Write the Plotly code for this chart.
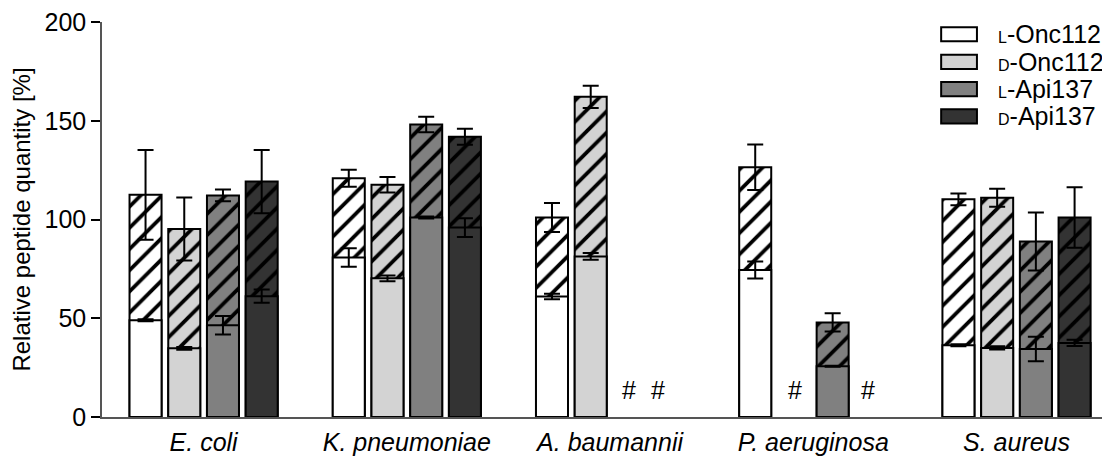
import plotly.graph_objects as go

# ---------------- data ----------------
categories = ["E. coli", "K. pneumoniae", "A. baumannii", "P. aeruginosa", "S. aureus"]
series_prefix = ["L", "D", "L", "D"]
series_base = ["Onc112", "Onc112", "Api137", "Api137"]

# lower (solid) segment values and SD
bottom_L_Onc112 = [49.0, 80.8, 61.0, 74.4, 36.3]
bottom_D_Onc112 = [34.8, 70.2, 81.3, None, 35.0]
bottom_L_Api137 = [46.5, 101.0, None, 25.7, 34.4]
bottom_D_Api137 = [61.2, 95.9, None, None, 37.5]

bottom_err_L_Onc112 = [0.5, 4.7, 1.4, 4.3, 0.5]
bottom_err_D_Onc112 = [0.7, 1.5, 1.7, None, 0.8]
bottom_err_L_Api137 = [4.7, 0.5, None, 0.3, 6.2]
bottom_err_D_Api137 = [3.4, 4.7, None, None, 1.6]

# total (top of hatched segment) values and SD
total_L_Onc112 = [112.5, 120.9, 101.0, 126.5, 110.2]
total_D_Onc112 = [95.2, 117.6, 162.1, None, 111.0]
total_L_Api137 = [112.2, 148.1, None, 47.9, 88.9]
total_D_Api137 = [119.2, 141.9, None, None, 101.0]

total_err_L_Onc112 = [22.7, 4.3, 7.3, 11.5, 3.0]
total_err_D_Onc112 = [16.0, 3.9, 5.6, None, 4.6]
total_err_L_Api137 = [3.0, 3.9, None, 4.6, 14.7]
total_err_D_Api137 = [16.0, 4.1, None, None, 15.3]

# not detected markers (category, text)
not_detected = [("A. baumannii", "#"), ("A. baumannii", "#"),
                ("P. aeruginosa", "#"), ("P. aeruginosa", "#")]

y_ticks = [0, 50, 100, 150, 200]

# ---------------- style ----------------
colors = ["#ffffff", "#d3d3d3", "#808080", "#333333"]
FONT = "Liberation Sans, Arial, sans-serif"
FS = 25
hash_shift = [19, 48, -18, 55]  # pixel offsets of '#' marks

bottoms = [bottom_L_Onc112, bottom_D_Onc112, bottom_L_Api137, bottom_D_Api137]
bottom_errs = [bottom_err_L_Onc112, bottom_err_D_Onc112, bottom_err_L_Api137, bottom_err_D_Api137]
totals = [total_L_Onc112, total_D_Onc112, total_L_Api137, total_D_Api137]
total_errs = [total_err_L_Onc112, total_err_D_Onc112, total_err_L_Api137, total_err_D_Api137]

fig = go.Figure()
for i in range(4):
    name = f"{series_prefix[i]}-{series_base[i]}"
    # full-height hatched bar (total)
    fig.add_trace(go.Bar(
        x=categories, y=totals[i], name=name, offsetgroup=str(i),
        marker=dict(color=colors[i], line=dict(color="black", width=2),
                    pattern=dict(shape="/", fgcolor="black", bgcolor=colors[i],
                                 size=15, solidity=0.25, fillmode="replace")),
        error_y=dict(type="data", array=total_errs[i], visible=True,
                     color="black", thickness=2, width=8),
        showlegend=False,
    ))
    # solid lower segment drawn over it
    fig.add_trace(go.Bar(
        x=categories, y=bottoms[i], name=name, offsetgroup=str(i),
        marker=dict(color=colors[i], line=dict(color="black", width=2)),
        error_y=dict(type="data", array=bottom_errs[i], visible=True,
                     color="black", thickness=2, width=8),
        showlegend=False,
    ))

# '#' marks for not detected
for (cat, txt), dx in zip(not_detected, hash_shift):
    fig.add_annotation(x=cat, y=13.5, text=txt, showarrow=False, xshift=dx,
                       font=dict(family=FONT, size=FS, color="black"),
                       xanchor="center", yanchor="middle")

# manual legend
leg_y = [0.969, 0.899, 0.830, 0.761]
for i in range(4):
    yc = leg_y[i]
    fig.add_shape(type="rect", xref="paper", yref="paper",
                  x0=0.8325, x1=0.868, y0=yc - 0.018, y1=yc + 0.018,
                  fillcolor=colors[i], line=dict(color="black", width=2))
    label = (f"<span style='font-size:16px'>{series_prefix[i]}</span>-"
             f"{series_base[i]}")
    fig.add_annotation(xref="paper", yref="paper", x=0.887, y=yc, text=label,
                       showarrow=False, xanchor="left", yanchor="middle",
                       font=dict(family=FONT, size=FS, color="black"))

fig.update_layout(
    width=1102, height=448,
    margin=dict(l=94, r=0, t=13, b=38.3),
    paper_bgcolor="white", plot_bgcolor="white",
    barmode="group", bargap=0.238, bargroupgap=0.173,
    font=dict(family=FONT, size=FS, color="black"),
    xaxis=dict(type="category", range=[-0.5, 4.46], showline=True,
               linecolor="#555555", linewidth=1.5, ticks="", showgrid=False,
               tickfont=dict(family=FONT, size=FS, color="black", style="italic"),
               ticklabelstandoff=2, ticklabeloverflow="allow"),
    yaxis=dict(range=[0, 200], tickvals=y_ticks, showline=True,
               linecolor="#555555", linewidth=1.5, ticks="outside",
               ticklen=9, tickwidth=2, tickcolor="black", showgrid=False,
               zeroline=False, ticklabeloverflow="allow",
               tickfont=dict(family=FONT, size=FS, color="black"),
               title=dict(text="Relative peptide quantity [%]",
                          font=dict(family=FONT, size=24, color="black"),
                          standoff=10)),
)

fig.write_html("out.html")
